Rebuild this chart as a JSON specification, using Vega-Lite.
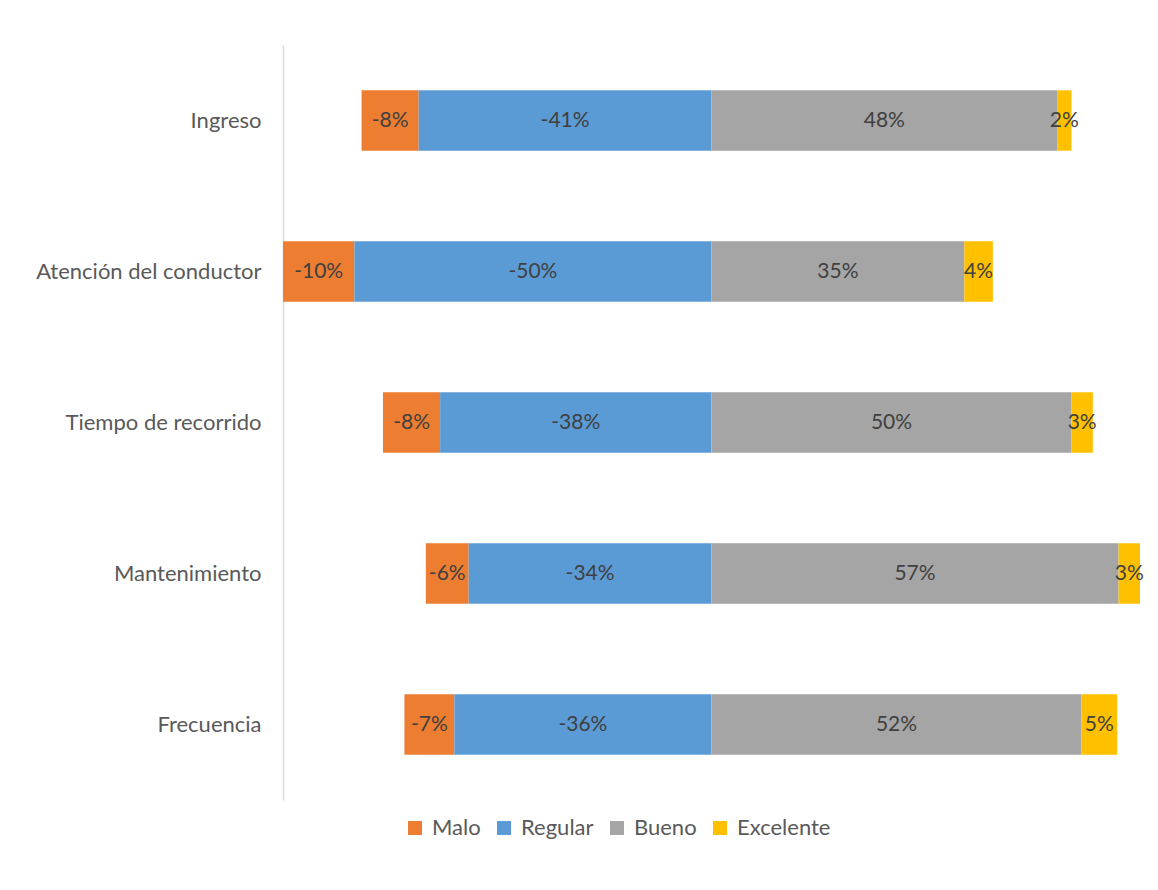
{
  "$schema": "https://vega.github.io/schema/vega-lite/v6.json",
  "width": 857,
  "height": 755,
  "autosize": "none",
  "padding": {"left": 283, "top": 45, "right": 18, "bottom": 90},
  "background": "white",
  "config": {
    "view": {"stroke": null},
    "font": "Lato",
    "text": {"font": "Lato"},
    "locale": {"number": {"decimal": ".", "thousands": ",", "grouping": [3], "currency": ["$", ""], "minus": "-"}}
  },
  "data": {
    "values": [
      {"aspecto": "Ingreso", "nivel": "Malo", "rango": 2, "valor": -0.08},
      {"aspecto": "Ingreso", "nivel": "Regular", "rango": 1, "valor": -0.41},
      {"aspecto": "Ingreso", "nivel": "Bueno", "rango": 1, "valor": 0.484},
      {"aspecto": "Ingreso", "nivel": "Excelente", "rango": 2, "valor": 0.02},
      {"aspecto": "Atención del conductor", "nivel": "Malo", "rango": 2, "valor": -0.10},
      {"aspecto": "Atención del conductor", "nivel": "Regular", "rango": 1, "valor": -0.50},
      {"aspecto": "Atención del conductor", "nivel": "Bueno", "rango": 1, "valor": 0.354},
      {"aspecto": "Atención del conductor", "nivel": "Excelente", "rango": 2, "valor": 0.04},
      {"aspecto": "Tiempo de recorrido", "nivel": "Malo", "rango": 2, "valor": -0.08},
      {"aspecto": "Tiempo de recorrido", "nivel": "Regular", "rango": 1, "valor": -0.38},
      {"aspecto": "Tiempo de recorrido", "nivel": "Bueno", "rango": 1, "valor": 0.504},
      {"aspecto": "Tiempo de recorrido", "nivel": "Excelente", "rango": 2, "valor": 0.03},
      {"aspecto": "Mantenimiento", "nivel": "Malo", "rango": 2, "valor": -0.06},
      {"aspecto": "Mantenimiento", "nivel": "Regular", "rango": 1, "valor": -0.34},
      {"aspecto": "Mantenimiento", "nivel": "Bueno", "rango": 1, "valor": 0.57},
      {"aspecto": "Mantenimiento", "nivel": "Excelente", "rango": 2, "valor": 0.03},
      {"aspecto": "Frecuencia", "nivel": "Malo", "rango": 2, "valor": -0.07},
      {"aspecto": "Frecuencia", "nivel": "Regular", "rango": 1, "valor": -0.36},
      {"aspecto": "Frecuencia", "nivel": "Bueno", "rango": 1, "valor": 0.518},
      {"aspecto": "Frecuencia", "nivel": "Excelente", "rango": 2, "valor": 0.05}
    ]
  },
  "transform": [
    {"stack": "valor", "groupby": ["aspecto"], "sort": [{"field": "rango", "order": "ascending"}], "as": ["v0", "v1"], "offset": "zero"},
    {"calculate": "(datum.v0 + datum.v1) / 2", "as": "vm"}
  ],
  "encoding": {
    "y": {
      "field": "aspecto",
      "type": "nominal",
      "sort": ["Ingreso", "Atención del conductor", "Tiempo de recorrido", "Mantenimiento", "Frecuencia"],
      "scale": {"paddingInner": 0.6, "paddingOuter": 0.3},
      "axis": {
        "title": null,
        "ticks": false,
        "domainColor": "#D9D9D9",
        "domainWidth": 1.5,
        "labelFont": "Lato",
        "labelFontSize": 22,
        "labelColor": "#595959",
        "labelPadding": 22,
        "labelLimit": 0
      }
    }
  },
  "layer": [
    {
      "mark": {"type": "bar"},
      "encoding": {
        "x": {"field": "v0", "type": "quantitative", "scale": {"domain": [-0.6, 0.6], "nice": false, "zero": false}, "axis": null},
        "x2": {"field": "v1"},
        "color": {
          "field": "nivel",
          "type": "nominal",
          "scale": {"domain": ["Malo", "Regular", "Bueno", "Excelente"], "range": ["#ED7D31", "#5B9BD5", "#A5A5A5", "#FFC000"]},
          "legend": {
            "title": null,
            "orient": "none",
            "direction": "horizontal",
            "legendX": 121,
            "legendY": 772,
            "symbolType": "square",
            "symbolSize": 196,
            "symbolStrokeWidth": 0,
            "labelFont": "Lato",
            "labelFontSize": 22,
            "labelColor": "#595959",
            "columnPadding": 12,
            "labelOffset": 6
          }
        }
      }
    },
    {
      "mark": {"type": "text", "fontSize": 21, "color": "#404040", "font": "Lato"},
      "encoding": {
        "x": {"field": "vm", "type": "quantitative"},
        "text": {"field": "valor", "type": "quantitative", "format": ".0%"}
      }
    }
  ]
}
